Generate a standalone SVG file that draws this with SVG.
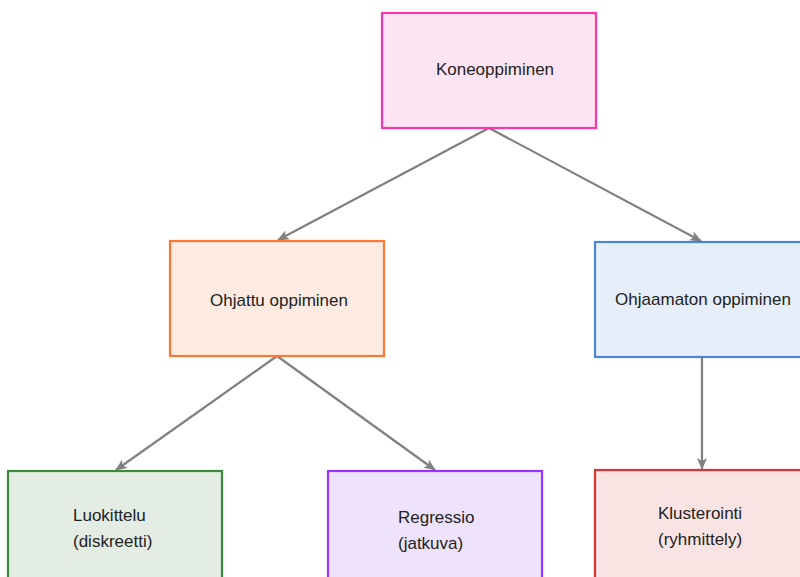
<svg xmlns="http://www.w3.org/2000/svg" width="800" height="577" viewBox="0 0 800 577">
<style>
text{font-family:"Liberation Sans",Arial,sans-serif;font-size:17px;fill:#222}
.box{stroke-width:2.2}
.edge{stroke:#808080;stroke-width:2.2;fill:none}
</style>
<defs>
<marker id="arr" viewBox="0 0 12 10" refX="11" refY="5" markerWidth="12" markerHeight="10" markerUnits="userSpaceOnUse" orient="auto">
<path d="M0,0 L12,5 L0,10 L3,5 Z" fill="#808080"/>
</marker>
</defs>
<rect width="800" height="577" fill="#fff"/>
<g id="edges">
<line class="edge" x1="489" y1="128" x2="278" y2="240" marker-end="url(#arr)"/>
<line class="edge" x1="489" y1="128" x2="701" y2="241" marker-end="url(#arr)"/>
<line class="edge" x1="277" y1="356" x2="116" y2="470" marker-end="url(#arr)"/>
<line class="edge" x1="277" y1="356" x2="435" y2="470" marker-end="url(#arr)"/>
<line class="edge" x1="702" y1="357" x2="702" y2="469" marker-end="url(#arr)"/>
</g>
<g id="koneoppiminen">
<rect class="box" x="382" y="13" width="214" height="115" fill="#fde4f2" stroke="#ff33aa"/>
<text x="495" y="75" text-anchor="middle">Koneoppiminen</text>
</g>
<g id="ohjattu">
<rect class="box" x="170" y="241" width="214" height="115" fill="#fdebe2" stroke="#ff7733"/>
<text x="279" y="306" text-anchor="middle">Ohjattu oppiminen</text>
</g>
<g id="ohjaamaton">
<rect class="box" x="595" y="242" width="215" height="115" fill="#e5eef9" stroke="#4a86d4"/>
<text x="703" y="305" text-anchor="middle">Ohjaamaton oppiminen</text>
</g>
<g id="luokittelu">
<rect class="box" x="8" y="471" width="214" height="115" fill="#e4ede4" stroke="#3a8a3a"/>
<text x="73" y="521">Luokittelu</text>
<text x="73" y="547">(diskreetti)</text>
</g>
<g id="regressio">
<rect class="box" x="328" y="471" width="214" height="115" fill="#efe2fc" stroke="#9933ff"/>
<text x="398" y="523">Regressio</text>
<text x="398" y="549">(jatkuva)</text>
</g>
<g id="klusterointi">
<rect class="box" x="595" y="470" width="215" height="115" fill="#fae3e3" stroke="#dd3333"/>
<text x="658" y="519">Klusterointi</text>
<text x="658" y="545">(ryhmittely)</text>
</g>
</svg>
